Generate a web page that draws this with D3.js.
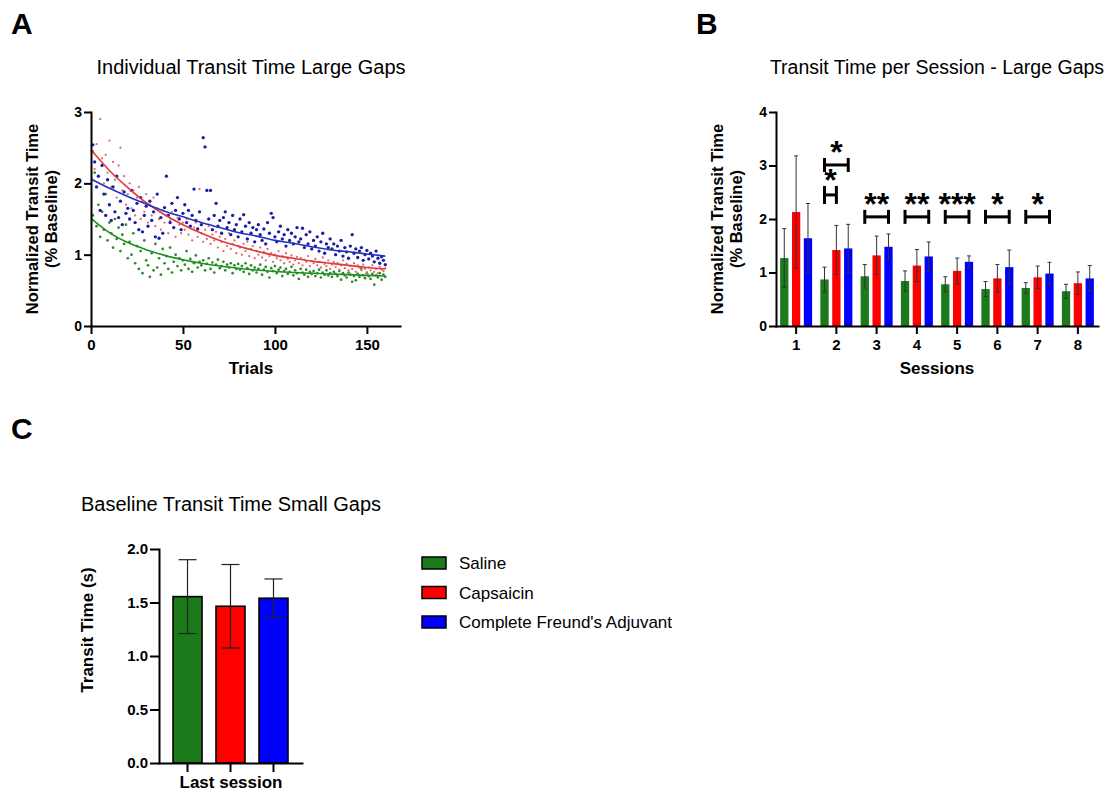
<!DOCTYPE html>
<html><head><meta charset="utf-8">
<script src="https://cdn.jsdelivr.net/npm/d3@7"></script>
<style>body{margin:0;background:#fff;} svg{display:block;} text{font-family:"Liberation Sans",Arial,sans-serif;fill:#000;}</style>
</head><body><svg id="c" width="1113" height="793"></svg>
<script>
// ---------- DATA ----------
const groups = ["Saline", "Capsaicin", "Complete Freund's Adjuvant"];
const groupColors = ["#1b7b1b", "#ff0000", "#0000ff"];
const dotColors = ["#2a8a2a", "#e26a6a", "#1c1ca6"];
const fitColors = ["#1f8f1f", "#e23a3a", "#2233bb"];

// Panel A: individual trials (trial 1..160)
const greenTrials = [
1.55,2.15,1.40,1.70,1.25,1.60,1.35,1.85,1.20,1.45,
1.30,1.10,1.50,1.22,1.38,1.05,1.28,1.15,1.42,0.95,
1.18,1.00,1.30,0.88,1.12,0.80,1.05,0.74,1.20,0.92,
0.85,0.69,1.02,0.78,1.15,0.82,0.95,0.72,1.08,0.88,
0.98,0.80,1.10,0.75,0.90,1.00,0.84,0.95,0.78,0.92,
0.86,1.05,0.80,0.94,0.76,0.88,0.99,0.82,0.90,0.85,
0.92,0.78,0.87,0.95,0.80,0.89,0.75,0.86,0.93,0.81,
0.84,0.90,0.78,0.86,0.82,0.88,0.74,0.85,0.80,0.87,
0.79,0.84,0.76,0.88,0.81,0.73,0.85,0.78,0.82,0.75,
0.80,0.86,0.72,0.79,0.83,0.76,0.68,0.81,0.77,0.84,
0.74,0.79,0.82,0.70,0.77,0.80,0.73,0.76,0.83,0.71,
0.78,0.74,0.66,0.80,0.75,0.72,0.79,0.69,0.76,0.73,
0.77,0.70,0.74,0.79,0.68,0.75,0.72,0.78,0.71,0.74,
0.69,0.76,0.73,0.70,0.77,0.65,0.74,0.71,0.68,0.75,
0.72,0.62,0.70,0.64,0.73,0.69,0.80,0.71,0.67,0.74,
0.70,0.66,0.73,0.58,0.71,0.68,0.74,0.65,0.72,0.69];
const redTrials = [
2.45,2.20,2.55,2.10,2.90,2.35,2.00,2.40,2.15,2.60,
1.95,2.30,2.05,1.80,2.25,2.50,1.90,2.10,1.70,1.85,
2.00,1.65,1.90,1.55,1.80,1.95,1.50,1.75,1.60,1.85,
1.45,1.70,1.55,1.80,1.40,1.65,1.50,1.35,1.62,1.45,
1.55,1.30,1.48,1.60,1.38,1.25,1.52,1.42,1.30,1.45,
1.35,1.50,1.28,1.40,1.20,1.38,1.45,1.25,1.92,1.30,
1.18,1.35,1.22,1.40,1.15,1.28,1.20,1.32,1.10,1.25,
1.18,1.05,1.22,1.12,1.30,1.08,1.15,1.20,1.02,1.12,
1.10,1.00,1.15,1.05,1.18,0.98,1.08,1.12,0.95,1.05,
1.00,1.10,0.96,1.04,0.92,1.08,0.98,1.02,0.90,1.00,
0.95,1.05,0.92,0.98,0.88,1.02,0.94,0.90,0.99,0.86,
0.92,0.97,0.88,0.95,0.85,0.93,0.90,0.98,0.84,0.91,
0.88,0.94,0.85,0.90,0.82,0.96,0.87,0.84,0.92,0.80,
0.86,0.90,0.83,0.88,0.79,0.85,0.92,0.81,0.87,0.78,
0.84,0.80,0.88,0.76,0.85,0.82,0.78,0.86,0.80,0.75,
0.82,0.78,0.85,0.76,0.80,0.74,0.83,0.79,0.77,0.81];
const blueTrials = [
2.54,2.30,1.95,2.10,1.62,2.25,1.85,1.55,2.05,1.70,
1.48,1.95,1.60,2.10,1.52,1.75,1.42,1.88,1.58,1.65,
1.50,1.90,1.62,1.45,1.72,1.35,1.80,1.32,1.55,1.68,
1.40,1.75,1.48,1.60,1.25,1.85,1.23,1.52,1.30,1.66,
2.10,1.55,1.45,1.72,1.38,1.62,1.80,1.50,1.35,1.58,
1.70,1.45,1.62,1.40,1.55,1.92,1.48,1.36,1.60,1.42,
2.64,2.51,1.90,1.50,1.90,1.35,1.55,1.72,1.40,1.48,
1.30,1.52,1.60,1.38,1.45,1.28,1.55,1.35,1.42,1.25,
1.50,1.32,1.56,1.40,1.22,1.45,1.30,1.38,1.18,1.35,
1.42,1.28,1.20,1.36,1.15,1.45,1.30,1.58,1.52,1.25,
1.18,1.32,1.40,1.22,1.28,1.12,1.35,1.20,1.30,1.15,
1.25,1.38,1.18,1.22,1.37,1.10,1.28,1.15,1.32,1.08,
1.20,1.12,1.25,1.05,1.18,1.30,1.02,1.15,1.10,1.22,
1.08,1.15,1.00,1.12,1.05,1.20,0.98,1.10,1.04,0.95,
1.12,1.28,1.02,1.08,0.96,1.05,1.10,0.92,1.00,1.06,
0.94,1.02,0.98,0.90,1.05,0.95,0.88,0.97,0.92,0.86];

// Panel A: fitted curves read at every 10 trials
const fitTrials = [0,10,20,30,40,50,60,70,80,90,100,110,120,130,140,150,160];
const fitGreen = [1.51,1.31,1.17,1.07,0.99,0.93,0.88,0.84,0.81,0.785,0.765,0.75,0.74,0.73,0.72,0.71,0.70];
const fitRed   = [2.47,2.18,1.94,1.73,1.56,1.42,1.30,1.20,1.12,1.05,0.99,0.95,0.91,0.88,0.85,0.82,0.80];
const fitBlue  = [2.06,1.93,1.815,1.71,1.61,1.53,1.45,1.38,1.31,1.26,1.20,1.16,1.11,1.07,1.04,1.01,0.98];

// Panel B: per-session means and SD
const sessions = ["1","2","3","4","5","6","7","8"];
const greenMean = [1.27,0.87,0.93,0.84,0.78,0.69,0.71,0.65];
const greenSD   = [0.55,0.23,0.22,0.19,0.14,0.14,0.10,0.13];
const redMean   = [2.13,1.42,1.32,1.13,1.03,0.89,0.91,0.80];
const redSD     = [1.05,0.46,0.36,0.30,0.24,0.26,0.21,0.21];
const blueMean  = [1.64,1.45,1.48,1.30,1.20,1.10,0.98,0.89];
const blueSD    = [0.65,0.45,0.24,0.27,0.11,0.32,0.21,0.24];

// Panel B: significance brackets
const sigSession = ["2","2","3","4","5","6","7"];
const sigFrom    = [0,0,0,0,0,0,0];
const sigTo      = [1,2,2,2,2,2,2];
const sigLevel   = [2.45,3.01,2.04,2.04,2.04,2.04,2.04];
const sigText    = ["*","*","**","**","***","*","*"];

// Panel C: last session small gaps (s)
const lastMean = [1.555,1.465,1.54];
const lastSD   = [0.345,0.39,0.18];

// ---------- DRAW ----------
const FONT = '"Liberation Sans", Arial, sans-serif';
const svg = d3.select("#c");

function styleAxis(g, fs){
  g.attr("font-family", FONT);
  g.select(".domain").attr("stroke","#000").attr("stroke-width",2).attr("stroke-linecap","square");
  g.selectAll(".tick line").attr("stroke","#000").attr("stroke-width",2);
  g.selectAll(".tick text").attr("fill","#000").style("font-size",fs+"px").style("font-weight","bold");
}
function txt(x,y,s,size,weight,anchor,rot){
  const t = svg.append("text").attr("x",x).attr("y",y).text(s)
    .style("font-size",size+"px").style("font-weight",weight||"normal")
    .attr("text-anchor",anchor||"start");
  if(rot) t.attr("transform",`rotate(${rot},${x},${y})`);
  return t;
}

// Panel letters
txt(11,34,"A",30,"bold");
txt(696,34,"B",30,"bold");
txt(11,439,"C",30,"bold");

// ===== Panel A =====
const xA = d3.scaleLinear().domain([0,168]).range([91,400]);
const yA = d3.scaleLinear().domain([0,3]).range([326,112]);
txt(251,74,"Individual Transit Time Large Gaps",20,"normal","middle");

const gA = svg.append("g");
const trialSets = [greenTrials, redTrials, blueTrials];
const radii = [1.35,1.15,1.65];
trialSets.forEach((vals,gi)=>{
  gA.append("g").selectAll("circle").data(vals).join("circle")
    .attr("cx",(d,i)=>xA(i+1)).attr("cy",d=>yA(d)).attr("r",radii[gi])
    .attr("fill",dotColors[gi]);
});
const fits = [fitGreen, fitRed, fitBlue];
const lineA = d3.line().x((d,i)=>xA(fitTrials[i])).y(d=>yA(d)).curve(d3.curveMonotoneX);
fits.forEach((f,gi)=>{
  gA.append("path").attr("d",lineA(f)).attr("fill","none").attr("stroke",fitColors[gi]).attr("stroke-width",1.6);
});
styleAxis(svg.append("g").attr("transform","translate(0,326)")
  .call(d3.axisBottom(xA).tickValues([0,50,100,150]).tickFormat(d3.format("d")).tickSize(8).tickPadding(5).tickSizeOuter(0)),15);
styleAxis(svg.append("g").attr("transform","translate(91,0)")
  .call(d3.axisLeft(yA).tickValues([0,1,2,3]).tickFormat(d3.format("d")).tickSize(7).tickPadding(2).tickSizeOuter(0)),14);
txt(38,219,"Normalized Transit Time",16.5,"bold","middle",-90);
txt(57,219,"(% Baseline)",16.5,"bold","middle",-90);
txt(251,374,"Trials",17,"bold","middle");

// ===== Panel B =====
const xB = d3.scaleBand().domain(sessions).range([776,1098]);
const xInner = d3.scaleBand().domain([0,1,2]).range([-16,16]).paddingInner(0.3);
const yB = d3.scaleLinear().domain([0,4]).range([326,112]);
txt(937,74,"Transit Time per Session - Large Gaps",19.5,"normal","middle");

const means = [greenMean, redMean, blueMean];
const sds = [greenSD, redSD, blueSD];
const cx = (s,gi)=> xB(s)+xB.bandwidth()/2 + xInner(gi) + xInner.bandwidth()/2;
const gB = svg.append("g");
means.forEach((m,gi)=>{
  sessions.forEach((s,si)=>{
    const c = cx(s,gi), w = xInner.bandwidth();
    gB.append("rect").attr("x",c-w/2).attr("width",w)
      .attr("y",yB(m[si])).attr("height",yB(0)-yB(m[si]))
      .attr("fill",groupColors[gi]);
    const lo = yB(m[si]-sds[gi][si]), hi = yB(m[si]+sds[gi][si]);
    gB.append("line").attr("x1",c).attr("x2",c).attr("y1",lo).attr("y2",hi).attr("stroke","#333").attr("stroke-width",1);
    gB.append("line").attr("x1",c-2).attr("x2",c+2).attr("y1",hi).attr("y2",hi).attr("stroke","#333").attr("stroke-width",1);
    gB.append("line").attr("x1",c-2).attr("x2",c+2).attr("y1",lo).attr("y2",lo).attr("stroke","#333").attr("stroke-width",1);
  });
});
// brackets
sigSession.forEach((s,k)=>{
  const x1 = cx(s,sigFrom[k]), x2 = cx(s,sigTo[k]), y = yB(sigLevel[k]);
  const cap = (sigTo[k]-sigFrom[k]===1) ? 9 : 7;
  const g = gB.append("g").attr("stroke","#000").attr("stroke-width",3);
  g.append("line").attr("x1",x1).attr("x2",x2).attr("y1",y).attr("y2",y);
  g.append("line").attr("x1",x1).attr("x2",x1).attr("y1",y-cap).attr("y2",y+cap);
  g.append("line").attr("x1",x2).attr("x2",x2).attr("y1",y-cap).attr("y2",y+cap);
  txt((x1+x2)/2, y - cap + 5, sigText[k], 32, "bold", "middle");
});
styleAxis(svg.append("g").attr("transform","translate(0,326)")
  .call(d3.axisBottom(xB).tickSize(8).tickPadding(5).tickSizeOuter(0)),15);
styleAxis(svg.append("g").attr("transform","translate(776,0)")
  .call(d3.axisLeft(yB).tickValues([0,1,2,3,4]).tickFormat(d3.format("d")).tickSize(7).tickPadding(2).tickSizeOuter(0)),14);
txt(723,219,"Normalized Transit Time",16.5,"bold","middle",-90);
txt(742,219,"(% Baseline)",16.5,"bold","middle",-90);
txt(937,374,"Sessions",17,"bold","middle");

// ===== Panel C =====
const xC = d3.scaleBand().domain(groups).range([159,302]).paddingInner(0.326).paddingOuter(0.326);
const yC = d3.scaleLinear().domain([0,2]).range([763,549]);
txt(231,511,"Baseline Transit Time Small Gaps",20,"normal","middle");
const gC = svg.append("g");
groups.forEach((gname,gi)=>{
  const x = xC(gname), w = xC.bandwidth(), c = x+w/2;
  gC.append("rect").attr("x",x).attr("width",w).attr("y",yC(lastMean[gi])).attr("height",yC(0)-yC(lastMean[gi]))
    .attr("fill",groupColors[gi]).attr("stroke","#000").attr("stroke-width",1.6);
  const lo = yC(lastMean[gi]-lastSD[gi]), hi = yC(lastMean[gi]+lastSD[gi]);
  gC.append("line").attr("x1",c).attr("x2",c).attr("y1",lo).attr("y2",hi).attr("stroke","#222").attr("stroke-width",1.2);
  gC.append("line").attr("x1",c-9).attr("x2",c+9).attr("y1",hi).attr("y2",hi).attr("stroke","#222").attr("stroke-width",1.2);
  gC.append("line").attr("x1",c-9).attr("x2",c+9).attr("y1",lo).attr("y2",lo).attr("stroke","#222").attr("stroke-width",1.2);
});
styleAxis(svg.append("g").attr("transform","translate(0,763)")
  .call(d3.axisBottom(xC).tickSize(9).tickFormat("").tickSizeOuter(0)),15);
styleAxis(svg.append("g").attr("transform","translate(159,0)")
  .call(d3.axisLeft(yC).tickValues([0,0.5,1,1.5,2]).tickFormat(d3.format(".1f")).tickSize(9).tickPadding(2).tickSizeOuter(0)),15);
txt(93,630,"Transit Time (s)",17,"bold","middle",-90);
txt(231,788,"Last session",17,"bold","middle");

// Legend
const lg = svg.append("g");
groups.forEach((gname,gi)=>{
  const y = 563 + gi*29.5;
  lg.append("rect").attr("x",422).attr("y",y-6).attr("width",24).attr("height",12)
    .attr("fill",groupColors[gi]).attr("stroke","#000").attr("stroke-width",1.5);
  lg.append("text").attr("x",459).attr("y",y+6).text(gname).style("font-size","17px");
});
</script></body></html>
